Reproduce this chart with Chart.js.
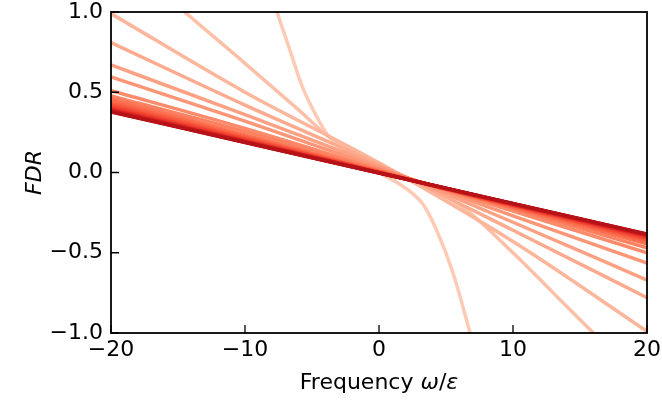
<!DOCTYPE html>
<html>
<head>
<meta charset="utf-8">
<script src="https://cdn.jsdelivr.net/npm/chart.js@4.4.1/dist/chart.umd.min.js"></script>
<style>
  html, body { margin: 0; padding: 0; background: #fff; }
</style>
</head>
<body>
<canvas id="grafica" width="662" height="403"></canvas>
<script>
// curva mas clara (lejos del equilibrio)
const freqC1 = [-9, -7.6, -6.6, -5.7, -4.4, -3.7, -2, 0, 1.5, 2.5, 3.3, 4.3, 5.5, 6.8, 7.6];
const fdrC1 = [1.4, 1.0, 0.75, 0.53, 0.31, 0.22, 0.11, 0.0, -0.07, -0.13, -0.2, -0.36, -0.62, -1.0, -1.25];

// segunda curva
const freqC2 = [-16, -14.5, -10, -6, -3.7, 0, 3, 6, 10, 13, 16, 17.5];
const fdrC2 = [1.11, 1.0, 0.68, 0.39, 0.22, 0.05, -0.07, -0.2, -0.5, -0.75, -1.0, -1.12];

const freqGrid = [-20, -10, 0, 10, 20];
const fdrCerca = [
  [0.99, 0.50, 0.06, -0.43, -0.99],
  [0.81, 0.42, 0.05, -0.36, -0.78],
  [0.67, 0.36, 0.04, -0.31, -0.67],
  [0.595, 0.32, 0.03, -0.27, -0.565],
  [0.51, 0.275, 0.02, -0.24, -0.50],
  [0.477, 0.255, 0.015, -0.225, -0.47],
  [0.46, 0.234, 0.008, -0.218, -0.444],
  [0.446, 0.226, 0.006, -0.214, -0.434],
  [0.432, 0.218, 0.004, -0.21, -0.424],
  [0.421, 0.212, 0.003, -0.206, -0.415],
  [0.412, 0.207, 0.002, -0.204, -0.409],
  [0.402, 0.201, 0.0, -0.201, -0.402],
  [0.395, 0.197, -0.001, -0.199, -0.397],
  [0.391, 0.195, -0.001, -0.197, -0.393],
  [0.386, 0.192, -0.002, -0.196, -0.39],
  [0.382, 0.19, -0.002, -0.194, -0.386],
  [0.379, 0.188, -0.003, -0.194, -0.385],
  [0.377, 0.187, -0.003, -0.193, -0.383]
];

const xTicks = [-20, -10, 0, 10, 20];
const yTicks = [-1.0, -0.5, 0.0, 0.5, 1.0];

// mapa de color "Reds"
const reds = [[255,245,240],[254,224,210],[252,187,161],[252,146,114],[251,106,74],[239,59,44],[203,24,29],[165,15,21],[103,0,13]];
function rojo(t) {
  const p = t * (reds.length - 1);
  const i = Math.min(Math.floor(p), reds.length - 2);
  const f = p - i;
  const c = reds[i].map((v, k) => Math.round(v + (reds[i + 1][k] - v) * f));
  return 'rgb(' + c.join(',') + ')';
}

const curvas = [[freqC1, fdrC1], [freqC2, fdrC2]].concat(fdrCerca.map(v => [freqGrid, v]));
const n = curvas.length;
const datasetss = curvas.map(function(c, i) {
  return {
    data: c[0].map((x, j) => ({ x: x, y: c[1][j] })),
    borderColor: rojo(0.2 + 0.62 * i / (n - 1)),
    borderWidth: 3.5,
    pointRadius: 0,
    cubicInterpolationMode: 'monotone',
    clip: 0,
    order: n - i
  };
});

const menos = s => String(s).replace('-', '\u2212');
const fuente = { family: 'DejaVu Sans', size: 22 };

// marco, marcas hacia dentro y titulo del eje x (omega/epsilon en cursiva)
const marco = {
  id: 'marco',
  afterDatasetsDraw(chart) {
    const { ctx, chartArea: a, scales: { x, y } } = chart;
    ctx.save();
    ctx.strokeStyle = '#000';
    ctx.lineWidth = 1.3;
    ctx.beginPath();
    xTicks.forEach(v => {
      const px = x.getPixelForValue(v);
      ctx.moveTo(px, a.bottom);
      ctx.lineTo(px, a.bottom - 8);
    });
    yTicks.forEach(v => {
      const py = y.getPixelForValue(v);
      ctx.moveTo(a.left, py);
      ctx.lineTo(a.left + 8, py);
    });
    ctx.stroke();
    ctx.lineWidth = 1.8;
    ctx.strokeRect(a.left, a.top, a.right - a.left, a.bottom - a.top);

    const partes = [['Frequency ', 'normal'], ['ω', 'italic'], ['/', 'normal'], ['ε', 'italic']];
    ctx.fillStyle = '#000';
    ctx.textBaseline = 'alphabetic';
    ctx.textAlign = 'left';
    let total = 0;
    partes.forEach(p => { ctx.font = p[1] + ' 22px "DejaVu Sans"'; total += ctx.measureText(p[0]).width; });
    let cx = (a.left + a.right) / 2 - total / 2;
    partes.forEach(p => {
      ctx.font = p[1] + ' 22px "DejaVu Sans"';
      ctx.fillText(p[0], cx, 389);
      cx += ctx.measureText(p[0]).width;
    });
    ctx.restore();
  }
};

new Chart(document.getElementById('grafica'), {
  type: 'line',
  data: { datasets: datasetss },
  options: {
    responsive: false,
    animation: false,
    events: [],
    layout: { padding: { left: 0, top: 12, right: 15, bottom: 0 } },
    plugins: { legend: { display: false }, tooltip: { enabled: false } },
    scales: {
      x: {
        type: 'linear', min: -20, max: 20,
        afterFit: s => { s.height = 70; s.paddingLeft = 0; s.paddingRight = 0; },
        afterBuildTicks: s => { s.ticks = xTicks.map(v => ({ value: v })); },
        grid: { display: false, drawTicks: false },
        border: { display: false },
        ticks: { padding: 4, color: '#000', font: fuente, maxRotation: 0, callback: v => menos(v) },
        title: { display: false, text: 'Frequency ω/ε' }
      },
      y: {
        type: 'linear', min: -1, max: 1,
        afterFit: s => { s.width = 111; s.paddingTop = 0; s.paddingBottom = 0; },
        afterBuildTicks: s => { s.ticks = yTicks.map(v => ({ value: v })); },
        grid: { display: false, drawTicks: false },
        border: { display: false },
        ticks: { padding: 8, color: '#000', font: { family: 'DejaVu Sans', size: 22, lineHeight: 1 }, callback: v => menos(v.toFixed(1)) },
        title: { display: true, text: 'FDR', color: '#000', font: { family: 'DejaVu Sans', size: 22, style: 'italic' }, padding: { top: 22, bottom: 0 } }
      }
    }
  },
  plugins: [marco]
});
</script>
</body>
</html>
